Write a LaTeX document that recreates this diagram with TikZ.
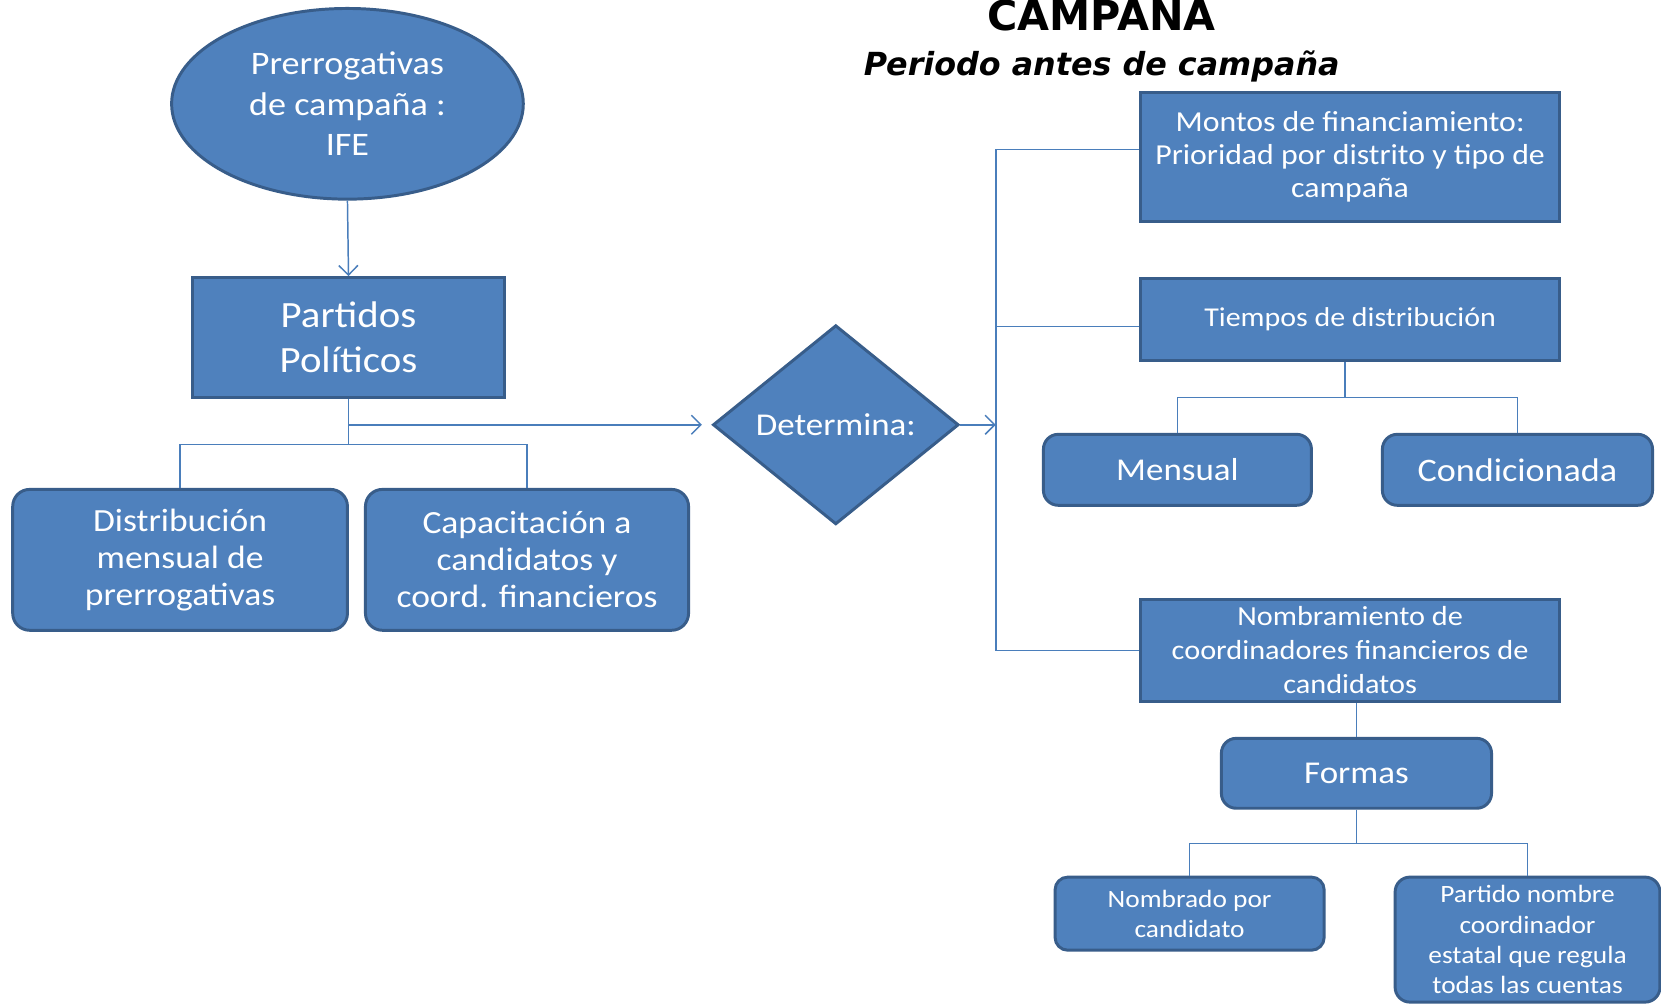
\documentclass[tikz,border=0pt]{standalone}
\usepackage{fontspec}
\setmainfont{Carlito}[FakeStretch=1.1]
\newfontfamily\titlefont{DejaVu Sans}
\usetikzlibrary{shapes.geometric,arrows.meta}
\definecolor{boxfill}{HTML}{4F81BD}
\definecolor{boxedge}{HTML}{385D8A}
\definecolor{conncol}{HTML}{4A7EBB}
\begin{document}
\begin{tikzpicture}[x=1pt,y=-1pt,
  box/.style={draw=boxedge, fill=boxfill, line width=2.8pt, text=white, align=center, inner sep=0pt},
  rbox/.style={box, rounded corners=16pt},
  conn/.style={draw=conncol, line width=1.4pt},
  arr/.style={conn, -{Straight Barb[length=9pt,width=18pt,line width=1.4pt]}},
  fs/.style 2 args={font=\fontsize{#1}{#2}\selectfont}
]
\fill[white] (0,0) rectangle (1568,949);
\useasboundingbox (0,0) rectangle (1568,949);

% titles
\node[font=\titlefont\bfseries\fontsize{39}{44}\selectfont, anchor=base] (title) at (1040,29) {CAMPANA};
\node[font=\titlefont\bfseries\itshape\fontsize{30}{36}\selectfont, anchor=base] (sub) at (1040,71) {Periodo antes de campaña};

% left part
\node[box, ellipse, minimum width=332pt, minimum height=180pt, fs={31}{38}] (ife) at (328,98) {Prerrogativas\\de campaña :\\IFE};
\node[box, minimum width=294pt, minimum height=113pt, fs={35}{43}] (pp) at (329,318.5) {Partidos\\Políticos};
\node[rbox, minimum width=316pt, minimum height=133pt, fs={30.5}{35}] (dist) at (170,528.5) {Distribución\\mensual de\\prerrogativas};
\node[rbox, minimum width=305pt, minimum height=133pt, fs={30.5}{35}] (cap) at (497.5,528.5) {Capacitación a\\candidatos y\\coord. financieros};
\node[box, diamond, aspect=1.234, minimum width=232pt, minimum height=188pt, fs={30}{36}] (det) at (789,401) {Determina:};

% right part
\node[box, minimum width=395pt, minimum height=122pt, fs={27.3}{31}] (mon) at (1274.5,148) {Montos de financiamiento:\\Prioridad por distrito y tipo de\\campaña};
\node[box, minimum width=395pt, minimum height=77pt, fs={25.7}{31}] (tie) at (1274.5,301.5) {Tiempos de distribución};
\node[rbox, rounded corners=14pt, minimum width=253pt, minimum height=67pt, fs={30}{36}] (men) at (1111.5,443.5) {Mensual};
\node[rbox, rounded corners=14pt, minimum width=255pt, minimum height=67pt, fs={31}{36}] (con) at (1432.5,443.5) {Condicionada};
\node[box, minimum width=395pt, minimum height=96pt, fs={26}{32}] (nom) at (1274.5,614) {Nombramiento de\\coordinadores financieros de\\candidatos};
\node[rbox, rounded corners=14pt, minimum width=255pt, minimum height=66pt, fs={30}{36}] (for) at (1280.5,730) {Formas};
\node[rbox, rounded corners=12pt, minimum width=254pt, minimum height=69pt, fs={23.5}{28}] (nbd) at (1123,862.5) {Nombrado por\\candidato};
\node[rbox, rounded corners=14pt, minimum width=250pt, minimum height=118pt, fs={23.5}{28.5}] (ptn) at (1442,887) {Partido nombre\\coordinador\\estatal que regula\\todas las cuentas};

% connectors
\draw[arr] (ife.south) -- (pp.north);
\draw[conn] (pp.south) -- ++(0,43) coordinate (j1);
\draw[conn] (dist.north) -- (dist.north |- j1) -- (cap.north |- j1) -- (cap.north);
\draw[arr, shorten >=9pt] (pp.south |- det.west) -- (det.west);

\coordinate (trunk) at (940,401);
\draw[arr] (det.east) -- (trunk);
\draw[conn] ([yshift=7pt]mon.west) -- ([yshift=7pt]mon.west -| trunk) -- (nom.west -| trunk) -- (nom.west);
\draw[conn] ([yshift=-6.5pt]tie.west) -- ([yshift=-6.5pt]tie.west -| trunk);

\draw[conn] ([xshift=-5pt]tie.south) -- ++(0,34) coordinate (j2);
\draw[conn] (men.north) -- (men.north |- j2) -- (con.north |- j2) -- (con.north);

\draw[conn] (for.north |- nom.south) -- (for.north);
\draw[conn] (for.south) -- ++(0,32) coordinate (j3);
\draw[conn] (nbd.north) -- (nbd.north |- j3) -- (ptn.north |- j3) -- (ptn.north);
\end{tikzpicture}
\end{document}
